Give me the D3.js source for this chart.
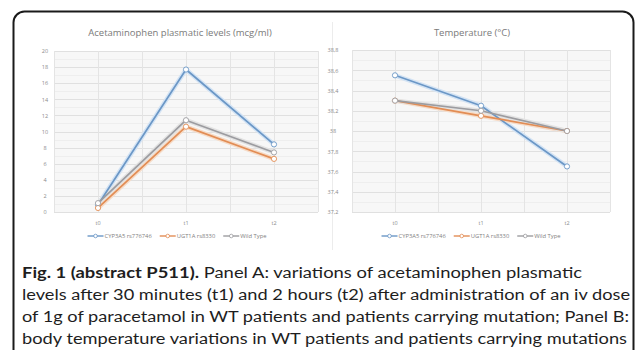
<!DOCTYPE html>
<html>
<head>
<meta charset="utf-8">
<script src="https://cdn.jsdelivr.net/npm/d3@7/dist/d3.min.js"></script>
<style>
  html, body { margin: 0; padding: 0; background: #fff; }
  svg { display: block; }
</style>
</head>
<body>
<svg id="chart" width="635" height="350"></svg>
<script>
// ---------- data ----------
const categories = ["t0", "t1", "t2"];
const seriesNames = ["CYP3A5 rs776746", "UGT1A rs8330", "Wild Type"];
const acetCYP = [0.9, 17.7, 8.4];
const acetUGT = [0.5, 10.6, 6.6];
const acetWT  = [1.1, 11.4, 7.4];
const tempCYP = [38.55, 38.25, 37.65];
const tempUGT = [38.3, 38.15, 38.0];
const tempWT  = [38.3, 38.2, 38.0];
const acetTicks = [0, 2, 4, 6, 8, 10, 12, 14, 16, 18, 20];
const tempTicks = [37.2, 37.4, 37.6, 37.8, 38.0, 38.2, 38.4, 38.6, 38.8];
const tempTickLabels = ["37,2", "37,4", "37,6", "37,8", "38", "38,2", "38,4", "38,6", "38,8"];
const titleA = "Acetaminophen plasmatic levels (mcg/ml)";
const titleB = "Temperature (°C)";
const captionBold = "Fig. 1 (abstract P511).";
const captionLines = [
  " Panel A: variations of acetaminophen plasmatic",
  "levels after 30 minutes (t1) and 2 hours (t2) after administration of an iv dose",
  "of 1g of paracetamol in WT patients and patients carrying mutation; Panel B:",
  "body temperature variations in WT patients and patients carrying mutations"
];

const colors = ["#6b97c6", "#e28d55", "#9c9ca0"];
const halo = ["#d3e3f4", "#f6dcc8", "#e3e3e3"];

const svg = d3.select("#chart");
const FONT = "'Open Sans', 'Noto Sans', sans-serif";
const CAPFONT = "Lato, 'Open Sans', sans-serif";

// ---------- frame ----------
(function frame() {
  const x0 = 13.5, y0 = 11.5, x1 = 633.5, r = 11;
  const p = d3.path();
  p.moveTo(x0, 360);
  p.lineTo(x0, y0 + r);
  p.arcTo(x0, y0, x0 + r, y0, r);
  p.lineTo(x1 - r, y0);
  p.arcTo(x1, y0, x1, y0 + r, r);
  p.lineTo(x1, 360);
  svg.append("path").attr("d", p.toString())
    .attr("fill", "none").attr("stroke", "#1a1a1a").attr("stroke-width", 2);
})();

// faint chart-area separator
svg.append("line").attr("x1", 332.5).attr("x2", 332.5).attr("y1", 22).attr("y2", 250)
  .attr("stroke", "#ececec").attr("stroke-width", 1);

function drawPanel(cfg) {
  const g = svg.append("g");
  const x = d3.scaleBand().domain(categories).range([cfg.left, cfg.right]);
  const y = d3.scaleLinear().domain(cfg.domain).range([cfg.bottom, cfg.top]);

  g.append("rect").attr("x", cfg.left).attr("y", cfg.top)
    .attr("width", cfg.right - cfg.left).attr("height", cfg.bottom - cfg.top)
    .attr("fill", "#f7f7f7");

  const step = cfg.ticks[1] - cfg.ticks[0];
  const minor = cfg.ticks.slice(0, -1).map(t => t + step / 2);
  g.selectAll(".hmin").data(minor).join("line")
    .attr("x1", cfg.left).attr("x2", cfg.right)
    .attr("y1", d => Math.round(y(d)) + 0.5).attr("y2", d => Math.round(y(d)) + 0.5)
    .attr("stroke", "#eeeeee");
  g.selectAll(".hmaj").data(cfg.ticks).join("line")
    .attr("x1", cfg.left).attr("x2", cfg.right)
    .attr("y1", d => Math.round(y(d)) + 0.5).attr("y2", d => Math.round(y(d)) + 0.5)
    .attr("stroke", "#e0e0e0");
  const vx = [];
  categories.forEach(c => { vx.push(x(c)); vx.push(x(c) + x.bandwidth() / 2); });
  vx.push(cfg.right);
  g.selectAll(".v").data(vx).join("line")
    .attr("x1", d => Math.round(d) + 0.5).attr("x2", d => Math.round(d) + 0.5)
    .attr("y1", cfg.top).attr("y2", cfg.bottom)
    .attr("stroke", "#e4e4e4");

  const yAxis = d3.axisLeft(y).tickValues(cfg.ticks).tickSize(0).tickPadding(0)
    .tickFormat((d, i) => cfg.tickLabels[i]);
  const ya = g.append("g").attr("transform", `translate(${cfg.labelX},0)`).call(yAxis);
  ya.select(".domain").remove();
  ya.selectAll("text").attr("font-family", FONT).attr("font-size", 5.5)
    .attr("fill", "#8a8a8a").attr("text-anchor", "middle");

  const xAxis = d3.axisBottom(x).tickSize(0).tickPadding(0);
  const xa = g.append("g").attr("transform", `translate(0,${cfg.bottom + 9})`).call(xAxis);
  xa.select(".domain").remove();
  xa.selectAll("text").attr("font-family", FONT).attr("font-size", 5.5).attr("fill", "#8a8a8a");

  g.append("text").attr("x", cfg.titleX).attr("y", 36)
    .attr("text-anchor", "middle").attr("font-family", FONT).attr("font-size", 9.5)
    .attr("fill", "#7a7a7a").text(cfg.title);

  const line = d3.line().x((d, i) => x(categories[i]) + x.bandwidth() / 2).y(d => y(d));
  cfg.series.forEach((vals, si) => {
    g.append("path").attr("d", line(vals)).attr("fill", "none")
      .attr("stroke", halo[si]).attr("stroke-width", 4.5).attr("stroke-linejoin", "round");
  });
  cfg.series.forEach((vals, si) => {
    g.append("path").attr("d", line(vals)).attr("fill", "none")
      .attr("stroke", colors[si]).attr("stroke-width", 1.7).attr("stroke-linejoin", "round");
    g.selectAll(".m" + si).data(vals).join("circle")
      .attr("cx", (d, i) => x(categories[i]) + x.bandwidth() / 2)
      .attr("cy", d => y(d)).attr("r", 2.6)
      .attr("fill", "#ffffff").attr("stroke", colors[si]).attr("stroke-width", 0.9);
  });

  const lg = g.append("g").attr("transform", `translate(0,${cfg.legendY})`);
  const items = lg.selectAll("g").data(seriesNames).join("g");
  items.append("line").attr("x1", 0).attr("x2", 16).attr("y1", 0).attr("y2", 0)
    .attr("stroke", (d, i) => colors[i]).attr("stroke-width", 1.4);
  items.append("circle").attr("cx", 8).attr("cy", 0).attr("r", 1.8)
    .attr("fill", "#fff").attr("stroke", (d, i) => colors[i]).attr("stroke-width", 0.8);
  items.append("text").attr("x", 17).attr("y", 2).attr("font-family", FONT)
    .attr("font-size", 5.8).attr("fill", "#808080").text(d => d);
  let widths = [];
  items.each(function () { widths.push(17 + this.querySelector("text").getComputedTextLength()); });
  const gap = 8;
  const total = d3.sum(widths) + gap * (widths.length - 1);
  let cx = cfg.legendCenter - total / 2;
  items.attr("transform", (d, i) => {
    const t = `translate(${cx},0)`;
    cx += widths[i] + gap;
    return t;
  });
}

drawPanel({
  left: 54, right: 318, top: 51, bottom: 212,
  domain: [0, 20], ticks: acetTicks, tickLabels: acetTicks.map(String),
  labelX: 45, title: titleA, titleX: 180,
  series: [acetCYP, acetUGT, acetWT],
  legendY: 236, legendCenter: 177
});
drawPanel({
  left: 352, right: 610, top: 50, bottom: 212,
  domain: [37.2, 38.8], ticks: tempTicks, tickLabels: tempTickLabels,
  labelX: 333, title: titleB, titleX: 472,
  series: [tempCYP, tempUGT, tempWT],
  legendY: 236, legendCenter: 471
});

// ---------- caption ----------
const capStart = 22;
const capLengths = [560, 608, 607, 605];
const capBase = [278, 300, 322, 344];
captionLines.forEach((txt, i) => {
  const t = svg.append("text").attr("x", capStart).attr("y", capBase[i])
    .attr("font-family", CAPFONT).attr("font-size", 15.5).attr("fill", "#1e1e1e")
    .attr("textLength", capLengths[i]).attr("lengthAdjust", "spacingAndGlyphs")
    .attr("xml:space", "preserve");
  if (i === 0) {
    t.append("tspan").attr("font-weight", "bold").text(captionBold);
  }
  t.append("tspan").text(txt);
});
</script>
</body>
</html>
